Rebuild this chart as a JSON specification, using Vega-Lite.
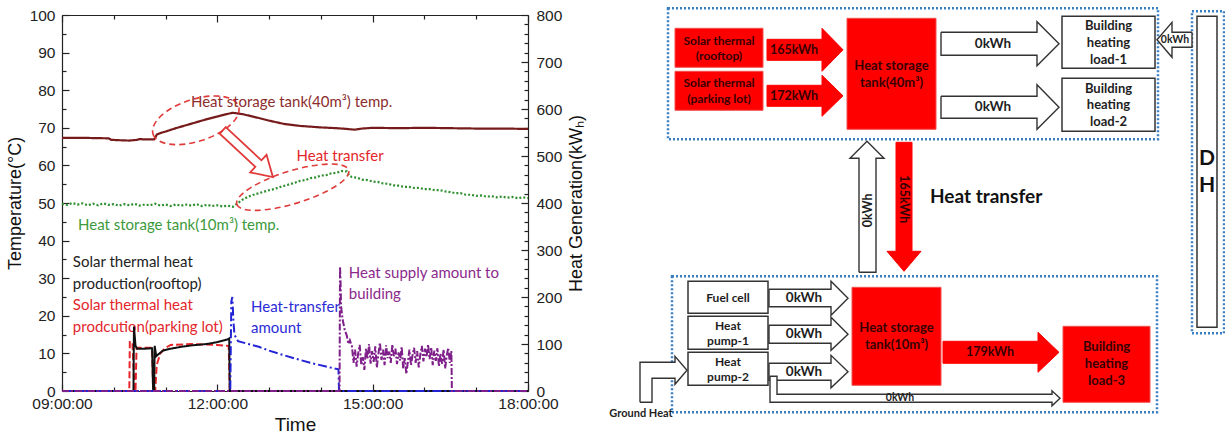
{
  "$schema": "https://vega.github.io/schema/vega-lite/v6.json",
  "background": "white",
  "padding": {"left": 6, "top": 7, "right": 0, "bottom": 0},
  "bounds": "flush",
  "spacing": 72,
  "config": {"font": "Liberation Sans", "view": {"stroke": null}},
  "datasets": {
    "temp": [
      {"s":"40","t":9,"v":67.3},{"s":"40","t":9.5,"v":67.3},{"s":"40","t":9.9,"v":67.2},{"s":"40","t":9.95,"v":66.8},{"s":"40","t":10.1,"v":66.7},{"s":"40","t":10.3,"v":66.6},{"s":"40","t":10.45,"v":66.8},{"s":"40","t":10.5,"v":67.0},{"s":"40","t":10.6,"v":66.9},{"s":"40","t":10.78,"v":66.9},{"s":"40","t":10.8,"v":67.3},{"s":"40","t":10.83,"v":68.2},{"s":"40","t":10.9,"v":68.6},{"s":"40","t":11.0,"v":69.0},{"s":"40","t":11.2,"v":69.9},{"s":"40","t":11.5,"v":71.1},{"s":"40","t":11.8,"v":72.3},{"s":"40","t":12.0,"v":73.0},{"s":"40","t":12.2,"v":73.7},{"s":"40","t":12.3,"v":74.0},{"s":"40","t":12.35,"v":73.9},{"s":"40","t":12.5,"v":73.6},{"s":"40","t":12.8,"v":72.6},{"s":"40","t":13.0,"v":71.9},{"s":"40","t":13.3,"v":71.0},{"s":"40","t":13.6,"v":70.5},{"s":"40","t":14.0,"v":70.1},{"s":"40","t":14.3,"v":69.9},{"s":"40","t":14.5,"v":69.7},{"s":"40","t":14.65,"v":69.5},{"s":"40","t":14.8,"v":69.8},{"s":"40","t":15.0,"v":70.0},{"s":"40","t":15.5,"v":69.9},{"s":"40","t":16.0,"v":70.0},{"s":"40","t":16.5,"v":69.9},{"s":"40","t":17.0,"v":69.8},{"s":"40","t":17.5,"v":69.8},{"s":"40","t":18.0,"v":69.7},
      {"s":"10","t":9.0,"v":49.8},{"s":"10","t":9.1,"v":49.5},{"s":"10","t":9.2,"v":50.0},{"s":"10","t":9.3,"v":49.6},{"s":"10","t":9.4,"v":49.9},{"s":"10","t":9.5,"v":49.4},{"s":"10","t":9.6,"v":49.8},{"s":"10","t":9.7,"v":49.4},{"s":"10","t":9.8,"v":49.9},{"s":"10","t":9.9,"v":49.5},{"s":"10","t":10.0,"v":49.7},{"s":"10","t":10.1,"v":49.3},{"s":"10","t":10.2,"v":49.7},{"s":"10","t":10.3,"v":49.4},{"s":"10","t":10.4,"v":49.8},{"s":"10","t":10.5,"v":49.3},{"s":"10","t":10.6,"v":49.6},{"s":"10","t":10.7,"v":49.4},{"s":"10","t":10.8,"v":49.8},{"s":"10","t":10.9,"v":49.3},{"s":"10","t":11.0,"v":49.6},{"s":"10","t":11.1,"v":49.2},{"s":"10","t":11.2,"v":49.6},{"s":"10","t":11.3,"v":49.3},{"s":"10","t":11.4,"v":49.6},{"s":"10","t":11.5,"v":49.3},{"s":"10","t":11.6,"v":49.7},{"s":"10","t":11.7,"v":49.2},{"s":"10","t":11.8,"v":49.5},{"s":"10","t":11.9,"v":49.2},{"s":"10","t":12.0,"v":49.4},{"s":"10","t":12.1,"v":49.1},{"s":"10","t":12.2,"v":49.3},{"s":"10","t":12.3,"v":49.0},{"s":"10","t":12.4,"v":50.0},{"s":"10","t":12.5,"v":51.0},{"s":"10","t":12.6,"v":51.7},{"s":"10","t":12.7,"v":52.2},{"s":"10","t":12.8,"v":52.6},{"s":"10","t":12.9,"v":53.0},{"s":"10","t":13.0,"v":53.4},{"s":"10","t":13.1,"v":53.7},{"s":"10","t":13.2,"v":54.2},{"s":"10","t":13.3,"v":54.6},{"s":"10","t":13.4,"v":55.0},{"s":"10","t":13.5,"v":55.4},{"s":"10","t":13.6,"v":55.9},{"s":"10","t":13.7,"v":56.1},{"s":"10","t":13.8,"v":56.6},{"s":"10","t":13.9,"v":56.8},{"s":"10","t":14.0,"v":57.3},{"s":"10","t":14.1,"v":57.4},{"s":"10","t":14.2,"v":57.9},{"s":"10","t":14.3,"v":58.0},{"s":"10","t":14.4,"v":58.5},{"s":"10","t":14.5,"v":58.4},{"s":"10","t":14.55,"v":57.2},{"s":"10","t":14.6,"v":56.9},{"s":"10","t":14.7,"v":56.7},{"s":"10","t":14.8,"v":56.2},{"s":"10","t":14.9,"v":56.1},{"s":"10","t":15.0,"v":55.7},{"s":"10","t":15.1,"v":55.6},{"s":"10","t":15.2,"v":55.2},{"s":"10","t":15.3,"v":55.1},{"s":"10","t":15.4,"v":54.7},{"s":"10","t":15.5,"v":54.6},{"s":"10","t":15.6,"v":54.3},{"s":"10","t":15.7,"v":54.3},{"s":"10","t":15.8,"v":54.0},{"s":"10","t":15.9,"v":54.0},{"s":"10","t":16.0,"v":53.7},{"s":"10","t":16.1,"v":53.7},{"s":"10","t":16.2,"v":53.4},{"s":"10","t":16.3,"v":53.4},{"s":"10","t":16.4,"v":53.1},{"s":"10","t":16.5,"v":52.9},{"s":"10","t":16.6,"v":52.6},{"s":"10","t":16.7,"v":52.6},{"s":"10","t":16.8,"v":52.2},{"s":"10","t":16.9,"v":52.2},{"s":"10","t":17.0,"v":51.9},{"s":"10","t":17.1,"v":52.0},{"s":"10","t":17.2,"v":51.7},{"s":"10","t":17.3,"v":51.8},{"s":"10","t":17.4,"v":51.5},{"s":"10","t":17.5,"v":51.7},{"s":"10","t":17.6,"v":51.4},{"s":"10","t":17.7,"v":51.6},{"s":"10","t":17.8,"v":51.3},{"s":"10","t":17.9,"v":51.5},{"s":"10","t":18.0,"v":51.3}
    ],
    "heat": [
      {"s":"parking","t":9,"v":0},{"s":"parking","t":10.3,"v":0},{"s":"parking","t":10.31,"v":104},{"s":"parking","t":10.36,"v":104},{"s":"parking","t":10.4,"v":0},{"s":"parking","t":10.42,"v":0},{"s":"parking","t":10.44,"v":92},{"s":"parking","t":10.74,"v":92},{"s":"parking","t":10.76,"v":0},{"s":"parking","t":10.8,"v":0},{"s":"parking","t":10.83,"v":56},{"s":"parking","t":10.9,"v":80},{"s":"parking","t":11.0,"v":92},{"s":"parking","t":11.1,"v":98},{"s":"parking","t":11.5,"v":100},{"s":"parking","t":12.0,"v":98},{"s":"parking","t":12.22,"v":96},{"s":"parking","t":12.24,"v":0},{"s":"parking","t":18,"v":0},
      {"s":"rooftop","t":9,"v":0},{"s":"rooftop","t":10.38,"v":0},{"s":"rooftop","t":10.39,"v":137},{"s":"rooftop","t":10.42,"v":96},{"s":"rooftop","t":10.45,"v":90},{"s":"rooftop","t":10.6,"v":90},{"s":"rooftop","t":10.74,"v":91},{"s":"rooftop","t":10.76,"v":0},{"s":"rooftop","t":10.78,"v":0},{"s":"rooftop","t":10.79,"v":96},{"s":"rooftop","t":10.82,"v":74},{"s":"rooftop","t":10.86,"v":78},{"s":"rooftop","t":10.95,"v":86},{"s":"rooftop","t":11.1,"v":90},{"s":"rooftop","t":11.3,"v":94},{"s":"rooftop","t":11.5,"v":97},{"s":"rooftop","t":11.8,"v":100},{"s":"rooftop","t":12.0,"v":104},{"s":"rooftop","t":12.2,"v":110},{"s":"rooftop","t":12.23,"v":112},{"s":"rooftop","t":12.24,"v":0},{"s":"rooftop","t":18,"v":0},
      {"s":"transfer","t":9,"v":0},{"s":"transfer","t":12.25,"v":0},{"s":"transfer","t":12.27,"v":190},{"s":"transfer","t":12.29,"v":200},{"s":"transfer","t":12.31,"v":150},{"s":"transfer","t":12.33,"v":120},{"s":"transfer","t":12.4,"v":106},{"s":"transfer","t":12.6,"v":100},{"s":"transfer","t":12.8,"v":94},{"s":"transfer","t":13.0,"v":86},{"s":"transfer","t":13.2,"v":79},{"s":"transfer","t":13.5,"v":69},{"s":"transfer","t":13.8,"v":60},{"s":"transfer","t":14.1,"v":52},{"s":"transfer","t":14.34,"v":46},{"s":"transfer","t":14.35,"v":0},{"s":"transfer","t":18,"v":0},
      {"s":"supply","t":9,"v":0},{"s":"supply","t":14.36,"v":0},{"s":"supply","t":14.37,"v":265},{"s":"supply","t":14.38,"v":230},{"s":"supply","t":14.39,"v":180},{"s":"supply","t":14.42,"v":152},{"s":"supply","t":14.46,"v":130},{"s":"supply","t":14.5,"v":118},{"s":"supply","t":14.53,"v":100},{"s":"supply","t":14.56,"v":108},{"s":"supply","t":14.6,"v":95},{"s":"supply","t":14.63,"v":60},{"s":"supply","t":14.66,"v":88},{"s":"supply","t":14.69,"v":52},{"s":"supply","t":14.72,"v":80},{"s":"supply","t":14.75,"v":98},{"s":"supply","t":14.78,"v":55},{"s":"supply","t":14.81,"v":72},{"s":"supply","t":14.84,"v":45},{"s":"supply","t":14.87,"v":90},{"s":"supply","t":14.9,"v":68},{"s":"supply","t":14.93,"v":100},{"s":"supply","t":14.96,"v":58},{"s":"supply","t":14.99,"v":85},{"s":"supply","t":15.02,"v":62},{"s":"supply","t":15.05,"v":95},{"s":"supply","t":15.08,"v":50},{"s":"supply","t":15.11,"v":78},{"s":"supply","t":15.14,"v":103},{"s":"supply","t":15.17,"v":66},{"s":"supply","t":15.2,"v":88},{"s":"supply","t":15.23,"v":55},{"s":"supply","t":15.26,"v":97},{"s":"supply","t":15.29,"v":70},{"s":"supply","t":15.32,"v":84},{"s":"supply","t":15.35,"v":60},{"s":"supply","t":15.38,"v":99},{"s":"supply","t":15.41,"v":74},{"s":"supply","t":15.44,"v":90},{"s":"supply","t":15.47,"v":57},{"s":"supply","t":15.5,"v":82},{"s":"supply","t":15.53,"v":65},{"s":"supply","t":15.56,"v":94},{"s":"supply","t":15.59,"v":48},{"s":"supply","t":15.62,"v":70},{"s":"supply","t":15.65,"v":36},{"s":"supply","t":15.68,"v":62},{"s":"supply","t":15.71,"v":88},{"s":"supply","t":15.74,"v":55},{"s":"supply","t":15.77,"v":76},{"s":"supply","t":15.8,"v":92},{"s":"supply","t":15.83,"v":60},{"s":"supply","t":15.86,"v":85},{"s":"supply","t":15.89,"v":50},{"s":"supply","t":15.92,"v":78},{"s":"supply","t":15.95,"v":96},{"s":"supply","t":15.98,"v":63},{"s":"supply","t":16.01,"v":90},{"s":"supply","t":16.04,"v":72},{"s":"supply","t":16.07,"v":99},{"s":"supply","t":16.1,"v":68},{"s":"supply","t":16.13,"v":93},{"s":"supply","t":16.16,"v":55},{"s":"supply","t":16.19,"v":86},{"s":"supply","t":16.22,"v":64},{"s":"supply","t":16.25,"v":91},{"s":"supply","t":16.28,"v":52},{"s":"supply","t":16.31,"v":80},{"s":"supply","t":16.34,"v":58},{"s":"supply","t":16.37,"v":88},{"s":"supply","t":16.4,"v":48},{"s":"supply","t":16.43,"v":75},{"s":"supply","t":16.46,"v":92},{"s":"supply","t":16.49,"v":60},{"s":"supply","t":16.52,"v":85},{"s":"supply","t":16.53,"v":0},{"s":"supply","t":18,"v":0}
    ],
    "redArrows": [
      {"id":"r1","k":1,"x":767,"y":40},{"id":"r1","k":2,"x":822,"y":40},{"id":"r1","k":3,"x":822,"y":29},{"id":"r1","k":4,"x":843,"y":50.5},{"id":"r1","k":5,"x":822,"y":72},{"id":"r1","k":6,"x":822,"y":61},{"id":"r1","k":7,"x":767,"y":61},{"id":"r1","k":8,"x":767,"y":40},
      {"id":"r2","k":1,"x":767,"y":86},{"id":"r2","k":2,"x":822,"y":86},{"id":"r2","k":3,"x":822,"y":76},{"id":"r2","k":4,"x":843,"y":96.5},{"id":"r2","k":5,"x":822,"y":117},{"id":"r2","k":6,"x":822,"y":107},{"id":"r2","k":7,"x":767,"y":107},{"id":"r2","k":8,"x":767,"y":86},
      {"id":"r3","k":1,"x":896,"y":143},{"id":"r3","k":2,"x":912,"y":143},{"id":"r3","k":3,"x":912,"y":252},{"id":"r3","k":4,"x":921,"y":252},{"id":"r3","k":5,"x":904,"y":272},{"id":"r3","k":6,"x":887,"y":252},{"id":"r3","k":7,"x":896,"y":252},{"id":"r3","k":8,"x":896,"y":143},
      {"id":"r4","k":1,"x":943,"y":342},{"id":"r4","k":2,"x":1038,"y":342},{"id":"r4","k":3,"x":1038,"y":333},{"id":"r4","k":4,"x":1059,"y":353},{"id":"r4","k":5,"x":1038,"y":373},{"id":"r4","k":6,"x":1038,"y":364},{"id":"r4","k":7,"x":943,"y":364},{"id":"r4","k":8,"x":943,"y":342}
    ],
    "whiteArrows": [
      {"id":"w1","k":1,"x":941,"y":33},{"id":"w1","k":2,"x":1037,"y":33},{"id":"w1","k":3,"x":1037,"y":22.5},{"id":"w1","k":4,"x":1059,"y":44.5},{"id":"w1","k":5,"x":1037,"y":66.5},{"id":"w1","k":6,"x":1037,"y":56},{"id":"w1","k":7,"x":941,"y":56},{"id":"w1","k":8,"x":941,"y":33},
      {"id":"w2","k":1,"x":941,"y":97},{"id":"w2","k":2,"x":1037,"y":97},{"id":"w2","k":3,"x":1037,"y":85.5},{"id":"w2","k":4,"x":1059,"y":108},{"id":"w2","k":5,"x":1037,"y":130},{"id":"w2","k":6,"x":1037,"y":119},{"id":"w2","k":7,"x":941,"y":119},{"id":"w2","k":8,"x":941,"y":97},
      {"id":"w3","k":1,"x":1192,"y":33},{"id":"w3","k":2,"x":1172,"y":33},{"id":"w3","k":3,"x":1172,"y":23},{"id":"w3","k":4,"x":1157,"y":40.5},{"id":"w3","k":5,"x":1172,"y":58},{"id":"w3","k":6,"x":1172,"y":48},{"id":"w3","k":7,"x":1192,"y":48},{"id":"w3","k":8,"x":1192,"y":33},
      {"id":"w4","k":1,"x":859,"y":273},{"id":"w4","k":2,"x":859,"y":159},{"id":"w4","k":3,"x":850,"y":159},{"id":"w4","k":4,"x":867,"y":142},{"id":"w4","k":5,"x":884,"y":159},{"id":"w4","k":6,"x":876,"y":159},{"id":"w4","k":7,"x":876,"y":273},{"id":"w4","k":8,"x":859,"y":273},
      {"id":"w5","k":1,"x":769,"y":290},{"id":"w5","k":2,"x":831,"y":290},{"id":"w5","k":3,"x":831,"y":282},{"id":"w5","k":4,"x":848,"y":299},{"id":"w5","k":5,"x":831,"y":316},{"id":"w5","k":6,"x":831,"y":307.5},{"id":"w5","k":7,"x":769,"y":307.5},{"id":"w5","k":8,"x":769,"y":290},
      {"id":"w6","k":1,"x":769,"y":326},{"id":"w6","k":2,"x":831,"y":326},{"id":"w6","k":3,"x":831,"y":318},{"id":"w6","k":4,"x":848,"y":335},{"id":"w6","k":5,"x":831,"y":351},{"id":"w6","k":6,"x":831,"y":344},{"id":"w6","k":7,"x":769,"y":344},{"id":"w6","k":8,"x":769,"y":326},
      {"id":"w7","k":1,"x":769,"y":364},{"id":"w7","k":2,"x":831,"y":364},{"id":"w7","k":3,"x":831,"y":356},{"id":"w7","k":4,"x":848,"y":372.5},{"id":"w7","k":5,"x":831,"y":388.5},{"id":"w7","k":6,"x":831,"y":381},{"id":"w7","k":7,"x":769,"y":381},{"id":"w7","k":8,"x":769,"y":364},
      {"id":"w8","k":1,"x":770,"y":377},{"id":"w8","k":2,"x":777,"y":377},{"id":"w8","k":3,"x":777,"y":395},{"id":"w8","k":4,"x":1052,"y":395},{"id":"w8","k":5,"x":1052,"y":391.5},{"id":"w8","k":6,"x":1060,"y":399},{"id":"w8","k":7,"x":1052,"y":406.5},{"id":"w8","k":8,"x":1052,"y":403},{"id":"w8","k":9,"x":770,"y":403},{"id":"w8","k":10,"x":770,"y":377},
      {"id":"w9","k":1,"x":640,"y":403},{"id":"w9","k":2,"x":640,"y":363},{"id":"w9","k":3,"x":675,"y":363},{"id":"w9","k":4,"x":675,"y":357},{"id":"w9","k":5,"x":687,"y":371},{"id":"w9","k":6,"x":675,"y":385},{"id":"w9","k":7,"x":675,"y":379},{"id":"w9","k":8,"x":652,"y":379},{"id":"w9","k":9,"x":652,"y":403},{"id":"w9","k":10,"x":640,"y":403}
    ]
  },
  "hconcat": [
    {
      "width": 466,
      "height": 376,
      "resolve": {"scale": {"y": "independent"}, "axis": {"x": "independent"}},
      "layer": [
        {
          "encoding": {
            "x": {"field": "t", "type": "quantitative", "scale": {"domain": [9, 18], "nice": false, "zero": false},
              "axis": {"orient": "bottom", "values": [9,10,11,12,13,14,15,16,17,18],
                "labelExpr": "datum.value % 3 === 0 ? (datum.value < 10 ? '0' : '') + datum.value + ':00:00' : ''",
                "tickSize": {"condition": {"test": "datum.value % 3 === 0", "value": -7}, "value": -4},
                "labelPadding": 12, "labelFlush": false, "labelOverlap": false, "grid": false,
                "labelFont": "Liberation Sans", "labelFontSize": 15.5, "labelColor": "#222",
                "domainColor": "#222", "tickColor": "#222", "domainWidth": 1.2, "tickWidth": 1.2,
                "title": "Time", "titleFont": "Liberation Sans", "titleFontSize": 19, "titleFontWeight": "normal", "titleColor": "#111", "titlePadding": 1}},
            "y": {"field": "v", "type": "quantitative", "scale": {"domain": [0, 100], "nice": false, "zero": false},
              "axis": {"orient": "left", "values": [0,5,10,15,20,25,30,35,40,45,50,55,60,65,70,75,80,85,90,95,100],
                "labelExpr": "datum.value % 10 === 0 ? datum.label : ''",
                "tickSize": {"condition": {"test": "datum.value % 10 === 0", "value": -7}, "value": -4},
                "labelPadding": 14, "labelFlush": false, "labelOverlap": false, "grid": false,
                "labelFont": "Liberation Sans", "labelFontSize": 15.5, "labelColor": "#222",
                "domainColor": "#222", "tickColor": "#222", "domainWidth": 1.2, "tickWidth": 1.2,
                "title": "Temperature(°C)", "titleFont": "Liberation Sans", "titleFontSize": 18, "titleFontWeight": "normal", "titleColor": "#111", "titlePadding": 5}}
          },
          "layer": [
            {"data": {"name": "temp"}, "mark": {"type": "line", "strokeWidth": 2.2},
              "encoding": {
                "color": {"field": "s", "type": "nominal", "scale": {"domain": ["40", "10", "parking", "rooftop", "transfer", "supply"], "range": ["#761b1b", "#2f8f2f", "#e8252a", "#111111", "#2323d6", "#7f1f8a"]}, "legend": null},
                "strokeDash": {"field": "s", "type": "nominal", "scale": {"domain": ["40", "10", "parking", "rooftop", "transfer", "supply"], "range": [[1, 0], [2, 2], [7, 3], [1, 0], [9, 3, 2, 3], [7, 2, 2, 2]]}, "legend": null}
              }},
            {"data": {"values": [{"t": 11.585, "v": 72.0}]},
              "mark": {"type": "point", "shape": "M -1 0 A 1 0.467 0 1 0 1 0 A 1 0.467 0 1 0 -1 0 Z", "size": 8100, "angle": -18, "filled": false, "opacity": 1, "stroke": "#e03a3a", "strokeWidth": 1.6, "strokeDash": [6, 4]}},
            {"data": {"values": [{"t": 13.457, "v": 54.2}]},
              "mark": {"type": "point", "shape": "M -1 0 A 1 0.28 0 1 0 1 0 A 1 0.28 0 1 0 -1 0 Z", "size": 13689, "angle": -17, "filled": false, "opacity": 1, "stroke": "#e03a3a", "strokeWidth": 1.6, "strokeDash": [6, 4]}},
            {"data": {"values": [{"t": 12.589, "v": 63.1}]},
              "mark": {"type": "point", "shape": "M -1 -0.13 L 0.42 -0.13 L 0.42 -0.35 L 1 0 L 0.42 0.35 L 0.42 0.13 L -1 0.13 Z", "size": 4706, "angle": 43, "filled": false, "opacity": 1, "stroke": "#e03a3a", "strokeWidth": 1.8}},
            {"data": {"values": [{"t": 11.49, "v": 76.8, "label": "Heat storage tank(40m³) temp."}]},
              "mark": {"type": "text", "align": "left", "baseline": "middle", "font": "Lato", "fontSize": 15, "color": "#8b2d2d"},
              "encoding": {"text": {"field": "label"}}},
            {"data": {"values": [{"t": 13.53, "v": 62.4, "label": "Heat transfer"}, {"t": 9.21, "v": 22.8, "label": "Solar thermal heat\nprodcution(parking lot)"}]},
              "mark": {"type": "text", "align": "left", "baseline": "middle", "font": "Lato", "fontSize": 15, "lineBreak": "\n", "lineHeight": 21.7, "color": "#e3262b"},
              "encoding": {"text": {"field": "label"}}},
            {"data": {"values": [{"t": 9.31, "v": 44.1, "label": "Heat storage tank(10m³) temp."}]},
              "mark": {"type": "text", "align": "left", "baseline": "middle", "font": "Lato", "fontSize": 15, "color": "#3c9a3c"},
              "encoding": {"text": {"field": "label"}}},
            {"data": {"values": [{"t": 9.21, "v": 34.3, "label": "Solar thermal heat\nproduction(rooftop)"}]},
              "mark": {"type": "text", "align": "left", "baseline": "middle", "font": "Lato", "fontSize": 15, "lineBreak": "\n", "lineHeight": 21.7, "color": "#222222"},
              "encoding": {"text": {"field": "label"}}},
            {"data": {"values": [{"t": 12.65, "v": 22.4, "label": "Heat-transfer\namount"}]},
              "mark": {"type": "text", "align": "left", "baseline": "middle", "font": "Lato", "fontSize": 15, "lineBreak": "\n", "lineHeight": 21.7, "color": "#2b2bd6"},
              "encoding": {"text": {"field": "label"}}},
            {"data": {"values": [{"t": 14.54, "v": 31.5, "label": "Heat supply amount to\nbuilding"}]},
              "mark": {"type": "text", "align": "left", "baseline": "middle", "font": "Lato", "fontSize": 15, "lineBreak": "\n", "lineHeight": 21.7, "color": "#8b2a8b"},
              "encoding": {"text": {"field": "label"}}}
          ]
        },
        {
          "data": {"name": "heat"},
          "encoding": {
            "x": {"field": "t", "type": "quantitative", "scale": {"domain": [9, 18], "nice": false, "zero": false},
              "axis": {"orient": "top", "values": [9,10,11,12,13,14,15,16,17,18], "labels": false, "title": null, "grid": false,
                "tickSize": {"condition": {"test": "datum.value % 3 === 0", "value": -7}, "value": -4},
                "domainColor": "#222", "tickColor": "#222", "domainWidth": 1.2, "tickWidth": 1.2}},
            "y": {"field": "v", "type": "quantitative", "scale": {"domain": [0, 800], "nice": false, "zero": false},
              "axis": {"orient": "right", "values": [0,20,40,60,80,100,120,140,160,180,200,220,240,260,280,300,320,340,360,380,400,420,440,460,480,500,520,540,560,580,600,620,640,660,680,700,720,740,760,780,800],
                "labelExpr": "datum.value % 100 === 0 ? datum.label : ''",
                "tickSize": {"condition": {"test": "datum.value % 100 === 0", "value": -7}, "value": -4},
                "labelPadding": 15, "labelFlush": false, "labelOverlap": false, "grid": false,
                "labelFont": "Liberation Sans", "labelFontSize": 15.5, "labelColor": "#222",
                "domainColor": "#222", "tickColor": "#222", "domainWidth": 1.2, "tickWidth": 1.2,
                "title": "Heat Generation(kWₕ)", "titleAngle": 270, "titleBaseline": "top", "titleFont": "Liberation Sans", "titleFontSize": 18, "titleFontWeight": "normal", "titleColor": "#111", "titlePadding": 6}}
          },
          "layer": [
            {"mark": {"type": "line", "strokeWidth": 2},
              "encoding": {
                "color": {"field": "s", "type": "nominal", "scale": {"domain": ["40", "10", "parking", "rooftop", "transfer", "supply"], "range": ["#761b1b", "#2f8f2f", "#e8252a", "#111111", "#2323d6", "#7f1f8a"]}, "legend": null},
                "strokeDash": {"field": "s", "type": "nominal", "scale": {"domain": ["40", "10", "parking", "rooftop", "transfer", "supply"], "range": [[1, 0], [2, 2], [7, 3], [1, 0], [9, 3, 2, 3], [7, 2, 2, 2]]}, "legend": null}
              }}
          ]
        }
      ]
    },
    {
      "width": 625,
      "height": 376,
      "encoding": {
        "x": {"field": "x", "type": "quantitative", "scale": {"domain": [600, 1225], "nice": false, "zero": false}, "axis": null},
        "y": {"field": "y", "type": "quantitative", "scale": {"domain": [15.7, 391.7], "nice": false, "zero": false, "reverse": true}, "axis": null}
      },
      "layer": [
        {"data": {"values": [{"x":668,"x2":1158,"y":9,"y2":140},{"x":672,"x2":1157,"y":277,"y2":413},{"x":1192,"x2":1224,"y":12,"y2":334}]},
          "mark": {"type": "rect", "fill": null, "fillOpacity": 0, "stroke": "#3a7fc2", "strokeWidth": 2.5, "strokeDash": [2, 2]},
          "encoding": {"x2": {"field": "x2"}, "y2": {"field": "y2"}}},
        {"data": {"values": [{"x":675,"x2":763,"y":29,"y2":68},{"x":675,"x2":763,"y":72,"y2":111},{"x":847,"x2":936,"y":19,"y2":130},{"x":852,"x2":941,"y":288,"y2":386},{"x":1063,"x2":1150,"y":327,"y2":403}]},
          "mark": {"type": "rect", "fill": "#ff0000", "stroke": "#f25050", "strokeWidth": 1},
          "encoding": {"x2": {"field": "x2"}, "y2": {"field": "y2"}}},
        {"data": {"values": [{"x":1062,"x2":1155,"y":17,"y2":69},{"x":1062,"x2":1155,"y":79,"y2":132},{"x":688,"x2":768,"y":282,"y2":314},{"x":688,"x2":768,"y":317,"y2":350},{"x":688,"x2":768,"y":353,"y2":386},{"x":1197,"x2":1217,"y":17,"y2":328}]},
          "mark": {"type": "rect", "fill": "white", "stroke": "#333333", "strokeWidth": 1.5},
          "encoding": {"x2": {"field": "x2"}, "y2": {"field": "y2"}}},
        {"data": {"name": "redArrows"},
          "mark": {"type": "line", "fill": "#ff0000", "stroke": "#ff0000", "strokeWidth": 1},
          "encoding": {"detail": {"field": "id"}, "order": {"field": "k", "type": "quantitative"}}},
        {"data": {"name": "whiteArrows"},
          "mark": {"type": "line", "fill": "white", "stroke": "#333333", "strokeWidth": 1.4},
          "encoding": {"detail": {"field": "id"}, "order": {"field": "k", "type": "quantitative"}}},
        {"data": {"values": [{"x":719,"y":41.5,"label":"Solar thermal\n(rooftop)"},{"x":719,"y":84,"label":"Solar thermal\n(parking lot)"}]},
          "mark": {"type": "text", "font": "Lato", "fontWeight": "bold", "fontSize": 12, "lineBreak": "\n", "lineHeight": 15.5, "color": "#360000", "align": "center", "baseline": "middle"},
          "encoding": {"text": {"field": "label"}}},
        {"data": {"values": [{"x":891.5,"y":67,"label":"Heat storage\ntank(40m³)"},{"x":896.5,"y":329,"label":"Heat storage\ntank(10m³)"}]},
          "mark": {"type": "text", "font": "Lato", "fontWeight": "bold", "fontSize": 13, "lineBreak": "\n", "lineHeight": 16.5, "color": "#360000", "align": "center", "baseline": "middle"},
          "encoding": {"text": {"field": "label"}}},
        {"data": {"values": [{"x":1106.5,"y":348,"label":"Building\nheating\nload-3"}]},
          "mark": {"type": "text", "font": "Lato", "fontWeight": "bold", "fontSize": 13, "lineBreak": "\n", "lineHeight": 16.7, "color": "#360000", "align": "center", "baseline": "middle"},
          "encoding": {"text": {"field": "label"}}},
        {"data": {"values": [{"x":1108.5,"y":27,"label":"Building\nheating\nload-1"},{"x":1108.5,"y":89.5,"label":"Building\nheating\nload-2"}]},
          "mark": {"type": "text", "font": "Lato", "fontWeight": "bold", "fontSize": 13, "lineBreak": "\n", "lineHeight": 16.7, "color": "#1e1e1e", "align": "center", "baseline": "middle"},
          "encoding": {"text": {"field": "label"}}},
        {"data": {"values": [{"x":728,"y":298.5,"label":"Fuel cell"},{"x":728,"y":327,"label":"Heat\npump-1"},{"x":728,"y":362.5,"label":"Heat\npump-2"}]},
          "mark": {"type": "text", "font": "Lato", "fontWeight": "bold", "fontSize": 12, "lineBreak": "\n", "lineHeight": 15.2, "color": "#1e1e1e", "align": "center", "baseline": "middle"},
          "encoding": {"text": {"field": "label"}}},
        {"data": {"values": [{"x":794,"y":50.5,"label":"165kWh"},{"x":794,"y":96.5,"label":"172kWh"},{"x":990,"y":353,"label":"179kWh"}]},
          "mark": {"type": "text", "font": "Lato", "fontWeight": "bold", "fontSize": 12.5, "color": "#360000", "align": "center", "baseline": "middle"},
          "encoding": {"text": {"field": "label"}}},
        {"data": {"values": [{"x":993,"y":45,"label":"0kWh"},{"x":993,"y":108,"label":"0kWh"},{"x":804,"y":299,"label":"0kWh"},{"x":804,"y":335,"label":"0kWh"},{"x":804,"y":372.5,"label":"0kWh"}]},
          "mark": {"type": "text", "font": "Lato", "fontWeight": "bold", "fontSize": 13.5, "color": "#1e1e1e", "align": "center", "baseline": "middle"},
          "encoding": {"text": {"field": "label"}}},
        {"data": {"values": [{"x":1175,"y":40.5,"label":"0kWh"},{"x":900,"y":398.5,"label":"0kWh"}]},
          "mark": {"type": "text", "font": "Lato", "fontWeight": "bold", "fontSize": 10.5, "color": "#1e1e1e", "align": "center", "baseline": "middle"},
          "encoding": {"text": {"field": "label"}}},
        {"data": {"values": [{"x":867.5,"y":211,"label":"0kWh"}]},
          "mark": {"type": "text", "font": "Lato", "fontWeight": "bold", "fontSize": 12.5, "angle": 270, "color": "#1e1e1e", "align": "center", "baseline": "middle"},
          "encoding": {"text": {"field": "label"}}},
        {"data": {"values": [{"x":904,"y":200,"label":"165kWh"}]},
          "mark": {"type": "text", "font": "Lato", "fontWeight": "bold", "fontSize": 12.5, "angle": 90, "color": "#360000", "align": "center", "baseline": "middle"},
          "encoding": {"text": {"field": "label"}}},
        {"data": {"values": [{"x":930,"y":198,"label":"Heat transfer"}]},
          "mark": {"type": "text", "font": "Lato", "fontWeight": "bold", "fontSize": 19, "color": "#111111", "align": "left", "baseline": "middle"},
          "encoding": {"text": {"field": "label"}}},
        {"data": {"values": [{"x":1207,"y":160,"label":"D"},{"x":1207,"y":187,"label":"H"}]},
          "mark": {"type": "text", "font": "Lato", "fontWeight": "bold", "fontSize": 21, "color": "#111111", "align": "center", "baseline": "middle"},
          "encoding": {"text": {"field": "label"}}},
        {"data": {"values": [{"x":641,"y":415,"label":"Ground Heat"}]},
          "mark": {"type": "text", "font": "Lato", "fontWeight": "bold", "fontSize": 11, "color": "#1e1e1e", "align": "center", "baseline": "middle"},
          "encoding": {"text": {"field": "label"}}}
      ]
    }
  ]
}
